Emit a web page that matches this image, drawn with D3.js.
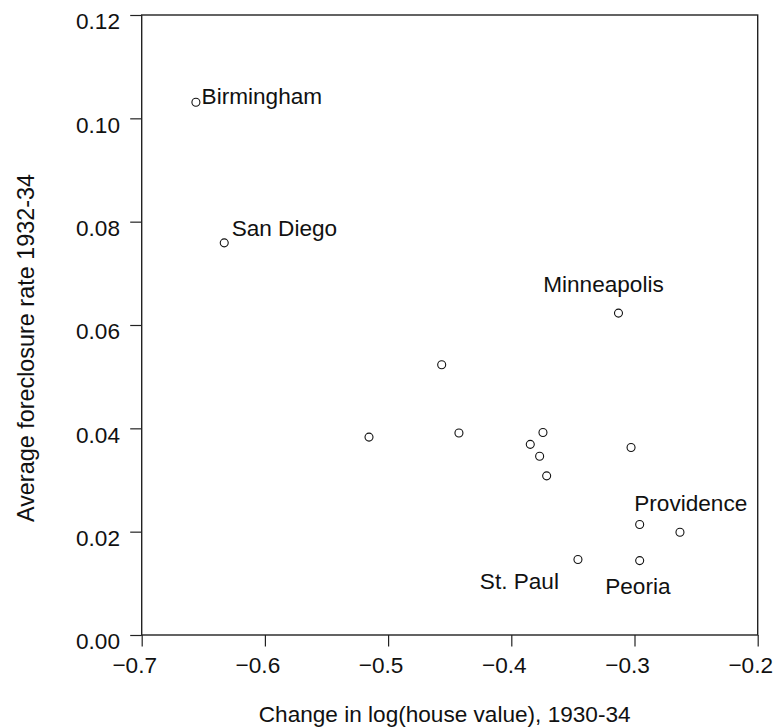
<!DOCTYPE html>
<html>
<head>
<meta charset="utf-8">
<script src="https://cdn.jsdelivr.net/npm/d3@7"></script>
<style>
  html, body { margin: 0; padding: 0; background: #fff; }
  svg text { font-family: "Liberation Sans", Arial, sans-serif; fill: #111; }
</style>
</head>
<body>
<svg id="chart" width="775" height="728"></svg>
<script>
// ---- data ----
const cities = ["Birmingham", "San Diego", "Minneapolis", "", "", "", "", "", "", "", "", "Providence", "", "St. Paul", "Peoria"];
const houseChange = [-0.656, -0.633, -0.313, -0.4565, -0.5155, -0.4425, -0.3743, -0.3846, -0.377, -0.3713, -0.3028, -0.2958, -0.2631, -0.3459, -0.2958];
const foreclosure = [0.1031, 0.0759, 0.0623, 0.0523, 0.0383, 0.0391, 0.0392, 0.0369, 0.0346, 0.0308, 0.0363, 0.0214, 0.0199, 0.0146, 0.0144];
const xTicks = [-0.7, -0.6, -0.5, -0.4, -0.3, -0.2];
const yTicks = [0, 0.02, 0.04, 0.06, 0.08, 0.10, 0.12];
const xTitle = "Change in log(house value), 1930-34";
const yTitle = "Average foreclosure rate 1932-34";

// ---- layout / style ----
const labelPlacement = {
  "Birmingham": { dx: 5.7, dy: 2, anchor: "start" },
  "San Diego": { dx: 7.4, dy: -7, anchor: "start" },
  "Minneapolis": { dx: -15, dy: -21, anchor: "middle" },
  "Providence": { dx: -5.4, dy: -13.7, anchor: "start" },
  "St. Paul": { dx: -19, dy: 29, anchor: "end" },
  "Peoria": { dx: -1.8, dy: 33.6, anchor: "middle" }
};
const plot = { left: 141.7, right: 757.7, top: 15, bottom: 635 };
const fontSize = 22.6;
const tickLen = 11.5;
const stroke = "#222";

const svg = d3.select("#chart");
const x = d3.scaleLinear().domain([-0.7, -0.2]).range([plot.left, plot.right]);
const y = d3.scaleLinear().domain([0, 0.12]).range([plot.bottom, plot.top]);

const fmtX = d => d3.format(".1f")(d).replace("-", "\u2013");
const fmtY = d3.format(".2f");

// x axis
const xAxis = svg.append("g")
  .attr("transform", `translate(0,${plot.bottom})`)
  .call(d3.axisBottom(x).tickValues(xTicks).tickSize(tickLen).tickSizeOuter(0).tickFormat(fmtX));
xAxis.select(".domain").remove();
xAxis.selectAll("line").attr("stroke", stroke).attr("stroke-width", 1.2);
xAxis.selectAll("text").attr("font-size", fontSize).attr("dy", null)
  .attr("y", 37.5).attr("dx", -7.5).attr("fill", "#111")
  .style("font-family", '"Liberation Sans", Arial, sans-serif');

// y axis
const yAxis = svg.append("g")
  .attr("transform", `translate(${plot.left},0)`)
  .call(d3.axisLeft(y).tickValues(yTicks).tickSize(tickLen).tickSizeOuter(0).tickFormat(fmtY));
yAxis.select(".domain").remove();
yAxis.selectAll("line").attr("stroke", stroke).attr("stroke-width", 1.2);
yAxis.selectAll("text").attr("font-size", fontSize).attr("dy", null)
  .attr("x", -21.7).attr("y", 13.8).attr("fill", "#111")
  .style("font-family", '"Liberation Sans", Arial, sans-serif');

// box
svg.append("rect")
  .attr("x", x.range()[0]).attr("y", y.range()[1])
  .attr("width", x.range()[1] - x.range()[0])
  .attr("height", y.range()[0] - y.range()[1])
  .attr("fill", "none").attr("stroke", stroke).attr("stroke-width", 1.4);

// titles
svg.append("text")
  .attr("x", (plot.left + plot.right) / 2 - 5)
  .attr("y", 722)
  .attr("text-anchor", "middle")
  .attr("font-size", fontSize)
  .text(xTitle);
svg.append("text")
  .attr("transform", `translate(34,348) rotate(-90)`)
  .attr("text-anchor", "middle")
  .attr("font-size", fontSize + 0.8)
  .text(yTitle);

// points
const pts = houseChange.map((v, i) => ({ name: cities[i], xv: v, yv: foreclosure[i] }));
svg.append("g").selectAll("circle").data(pts).join("circle")
  .attr("cx", d => x(d.xv)).attr("cy", d => y(d.yv))
  .attr("r", 4)
  .attr("fill", "none").attr("stroke", "#111").attr("stroke-width", 1.1);

// labels
svg.append("g").selectAll("text").data(pts.filter(d => d.name)).join("text")
  .attr("x", d => x(d.xv) + labelPlacement[d.name].dx)
  .attr("y", d => y(d.yv) + labelPlacement[d.name].dy)
  .attr("text-anchor", d => labelPlacement[d.name].anchor)
  .attr("font-size", fontSize)
  .text(d => d.name);
</script>
</body>
</html>
